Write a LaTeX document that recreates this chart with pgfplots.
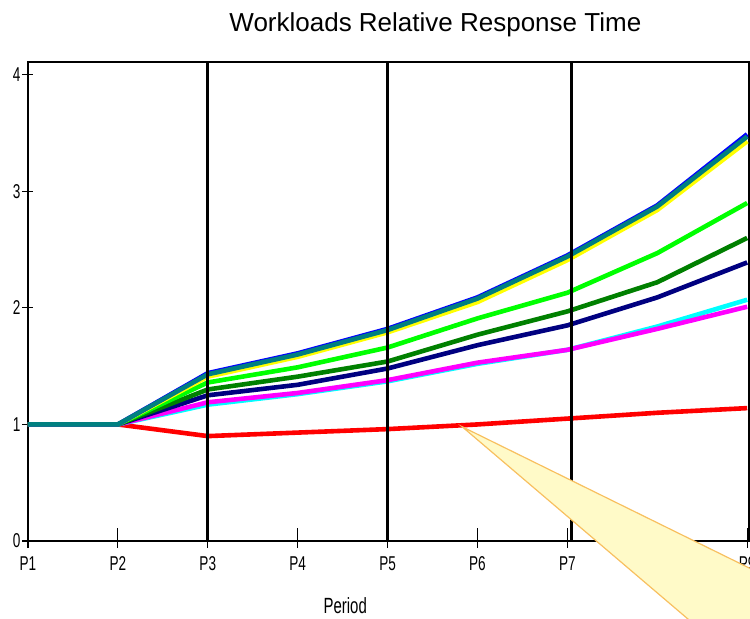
\documentclass[border=0pt]{standalone}
\usepackage{fontspec}
\setmainfont{Liberation Sans}
\newfontfamily\narrowfont[FakeStretch=0.68]{Liberation Sans}
\usepackage{pgfplots}
\pgfplotsset{compat=1.18}
\definecolor{cteal}{RGB}{0,128,128}
\definecolor{cblue}{RGB}{0,0,255}
\definecolor{cyellow}{RGB}{255,255,0}
\definecolor{clime}{RGB}{0,255,0}
\definecolor{cgreen}{RGB}{0,128,0}
\definecolor{cnavy}{RGB}{0,0,128}
\definecolor{ccyan}{RGB}{0,255,255}
\definecolor{cmagenta}{RGB}{255,0,255}
\definecolor{cred}{RGB}{255,0,0}
\definecolor{callfill}{RGB}{255,250,200}
\definecolor{calldraw}{RGB}{248,192,96}
\begin{document}
\begin{tikzpicture}
\begin{axis}[
  scale only axis,
  width=360.5pt, height=239.5pt,
  xmin=1, xmax=9.02, ymin=0, ymax=4.11,
  xtick={1,2,3,4,5,6,7,8,9},
  xticklabels={P1,P2,P3,P4,P5,P6,P7,P8,P9},
  ytick={0,1,2,3,4},
  tick pos=left,
  tick align=center,
  major tick length=5.5pt,
  xtick style={black, line width=0.6pt, /pgfplots/major tick length=10pt, yshift=1.5pt},
  ytick style={black, line width=0.6pt},
  axis line style={line width=1.2pt},
  ticklabel style={font=\narrowfont\fontsize{10}{11}\selectfont},
  xticklabel style={text height=7.2pt, text depth=0pt, yshift=-1.5pt},
  yticklabel style={xshift=2.5pt},
  /pgf/number format/assume math mode=true,
  title={Workloads Relative Response Time},
  title style={at={(axis description cs:0.565,1.077)}, anchor=center, yshift=-6pt, font=\fontsize{13}{15}\selectfont},
  xlabel={Period},
  xlabel style={at={(axis description cs:0.44,-0.134)}, anchor=center, font=\narrowfont\fontsize{11}{12}\selectfont},
  every axis plot/.append style={line width=2.3pt},
]
\addplot[cred] coordinates {(1,1) (2,1) (3,0.90) (4,0.93) (5,0.96) (6,1.00) (7,1.05) (8,1.10) (9,1.14)};
\addplot[ccyan] coordinates {(1,1) (2,1) (3,1.17) (4,1.26) (5,1.37) (6,1.52) (7,1.64) (8,1.84) (9,2.07)};
\addplot[cmagenta] coordinates {(1,1) (2,1) (3,1.19) (4,1.27) (5,1.38) (6,1.53) (7,1.64) (8,1.82) (9,2.01)};
\addplot[cnavy] coordinates {(1,1) (2,1) (3,1.25) (4,1.34) (5,1.48) (6,1.68) (7,1.85) (8,2.09) (9,2.39)};
\addplot[cgreen] coordinates {(1,1) (2,1) (3,1.30) (4,1.41) (5,1.54) (6,1.77) (7,1.97) (8,2.22) (9,2.60)};
\addplot[clime] coordinates {(1,1) (2,1) (3,1.36) (4,1.49) (5,1.66) (6,1.91) (7,2.13) (8,2.47) (9,2.90)};
\addplot[cyellow] coordinates {(1,1) (2,1) (3,1.41) (4,1.58) (5,1.79) (6,2.05) (7,2.41) (8,2.84) (9,3.43)};
\addplot[cblue] coordinates {(1,1) (2,1) (3,1.44) (4,1.61) (5,1.82) (6,2.09) (7,2.45) (8,2.88) (9,3.49)};
\addplot[cteal] coordinates {(1,1) (2,1) (3,1.43) (4,1.60) (5,1.81) (6,2.08) (7,2.44) (8,2.87) (9,3.47)};
\addplot[black, line width=1.5pt] coordinates {(3,0) (3,4.11)};
\addplot[black, line width=1.5pt] coordinates {(5,0) (5,4.11)};
\addplot[black, line width=1.5pt] coordinates {(7.05,0) (7.05,4.11)};
\coordinate (c1) at (axis cs:5.83,0.98);
\coordinate (c2) at (axis cs:10.15,-0.66);
\coordinate (c3) at (axis cs:10.15,-1.365);
\coordinate (c4) at (axis cs:9.40,-1.365);
\coordinate (bbsw) at (rel axis cs:-0.0388,-0.1628);
\coordinate (bbne) at (rel axis cs:1.0014,1.1294);
\end{axis}
\fill[gray!55, shift={(-0.6pt,-0.8pt)}] (c1) -- (c2) -- (c3) -- (c4) -- cycle;
\filldraw[fill=callfill, draw=calldraw, line width=0.6pt] (c1) -- (c2) -- (c3) -- (c4) -- cycle;
\pgfresetboundingbox
\useasboundingbox (bbsw) rectangle (bbne);
\end{tikzpicture}
\end{document}
